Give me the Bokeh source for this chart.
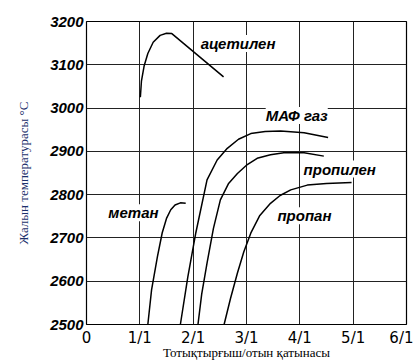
from bokeh.plotting import figure
from bokeh.models import Range1d, FixedTicker
from bokeh.embed import file_html
from bokeh.resources import INLINE
from bokeh.core.properties import value

# Data (ratio oxidizer/fuel, flame temperature °C)
acet_x = [1.01, 1.03, 1.08, 1.15, 1.25, 1.38, 1.50, 1.60, 2.57]
acet_y = [3025, 3062, 3097, 3126, 3152, 3168, 3173, 3172, 3072]

methane_x = [1.15, 1.22, 1.33, 1.42, 1.50, 1.58, 1.66, 1.76, 1.86]
methane_y = [2500, 2580, 2657, 2712, 2745, 2765, 2776, 2781, 2780]

maf_x = [1.76, 1.90, 2.05, 2.26, 2.45, 2.64, 2.85, 3.08, 3.35, 3.64, 4.08, 4.53]
maf_y = [2500, 2610, 2712, 2834, 2880, 2907, 2928, 2941, 2946, 2947, 2943, 2932]

propylene_x = [2.09, 2.16, 2.26, 2.38, 2.51, 2.66, 2.83, 3.00, 3.20, 3.45, 3.70, 4.08, 4.45]
propylene_y = [2500, 2570, 2642, 2722, 2788, 2825, 2849, 2868, 2884, 2892, 2897, 2897, 2889]

propane_x = [2.58, 2.70, 2.83, 2.95, 3.08, 3.25, 3.45, 3.63, 3.83, 4.14, 4.50, 4.97]
propane_y = [2500, 2560, 2619, 2668, 2711, 2752, 2780, 2798, 2811, 2822, 2826, 2828]

series_names = ["ацетилен", "МАФ газ", "пропилен", "пропан", "метан"]
label_x = [2.14, 3.36, 4.07, 3.58, 0.41]
label_y = [3149, 2983, 2859, 2751, 2758]

x_ticks = [0, 1, 2, 3, 4, 5, 6]
x_tick_labels = ["0", "1/1", "2/1", "3/1", "4/1", "5/1", "6/1"]
y_ticks = [2500, 2600, 2700, 2800, 2900, 3000, 3100, 3200]

p = figure(width=413, height=362, output_backend="svg", toolbar_location=None,
           x_range=Range1d(0, 6), y_range=Range1d(2500, 3200),
           min_border_left=86, min_border_right=7, min_border_top=21, min_border_bottom=37)

p.outline_line_color = "black"
p.outline_line_width = 1.2
p.background_fill_color = "white"
p.border_fill_color = "white"

for ax in (p.xaxis[0], p.yaxis[0]):
    ax.axis_line_color = None
    ax.major_tick_line_color = None
    ax.minor_tick_line_color = None
    ax.major_tick_out = 0
    ax.major_tick_in = 0
    ax.minor_tick_out = 0
    ax.minor_tick_in = 0
    ax.major_label_text_color = "black"
    ax.axis_label_text_font = "Liberation Serif"
    ax.axis_label_text_font_style = "normal"
    ax.axis_label_text_font_size = "13px"

p.yaxis.major_label_text_font = "Liberation Sans"
p.yaxis.major_label_text_font_style = "bold italic"
p.yaxis.major_label_text_font_size = "15px"
p.xaxis.major_label_text_font = "DejaVu Sans"
p.xaxis.major_label_text_font_style = "normal"
p.xaxis.major_label_text_font_size = "15px"

p.xaxis.ticker = FixedTicker(ticks=x_ticks)
p.xaxis.major_label_overrides = {t: l for t, l in zip(x_ticks, x_tick_labels)}
p.yaxis.ticker = FixedTicker(ticks=y_ticks)
p.xaxis.major_label_standoff = 4
p.yaxis.major_label_standoff = 3

p.xaxis.axis_label = "Тотықтырғыш/отын қатынасы"
p.xaxis.axis_label_standoff = -5
p.xaxis.axis_label_text_color = "black"
p.yaxis.axis_label = "Жалын температурасы °C"
p.yaxis.axis_label_standoff = 16
p.yaxis.axis_label_text_color = "#1b2f6b"

p.xgrid.ticker = FixedTicker(ticks=x_ticks)
p.ygrid.ticker = FixedTicker(ticks=y_ticks)
p.grid.grid_line_color = "#222222"
p.grid.grid_line_width = 1

for xs, ys in [(acet_x, acet_y), (methane_x, methane_y), (maf_x, maf_y),
               (propylene_x, propylene_y), (propane_x, propane_y)]:
    p.line(xs, ys, line_color="black", line_width=1.5)

p.text(x=label_x, y=label_y, text=series_names,
       text_font=value("Liberation Sans"), text_font_style="bold italic",
       text_font_size="15px", text_color="black",
       text_align="left", text_baseline="middle",
       background_fill_color="white")

open("out.html", "w").write(file_html(p, INLINE))
